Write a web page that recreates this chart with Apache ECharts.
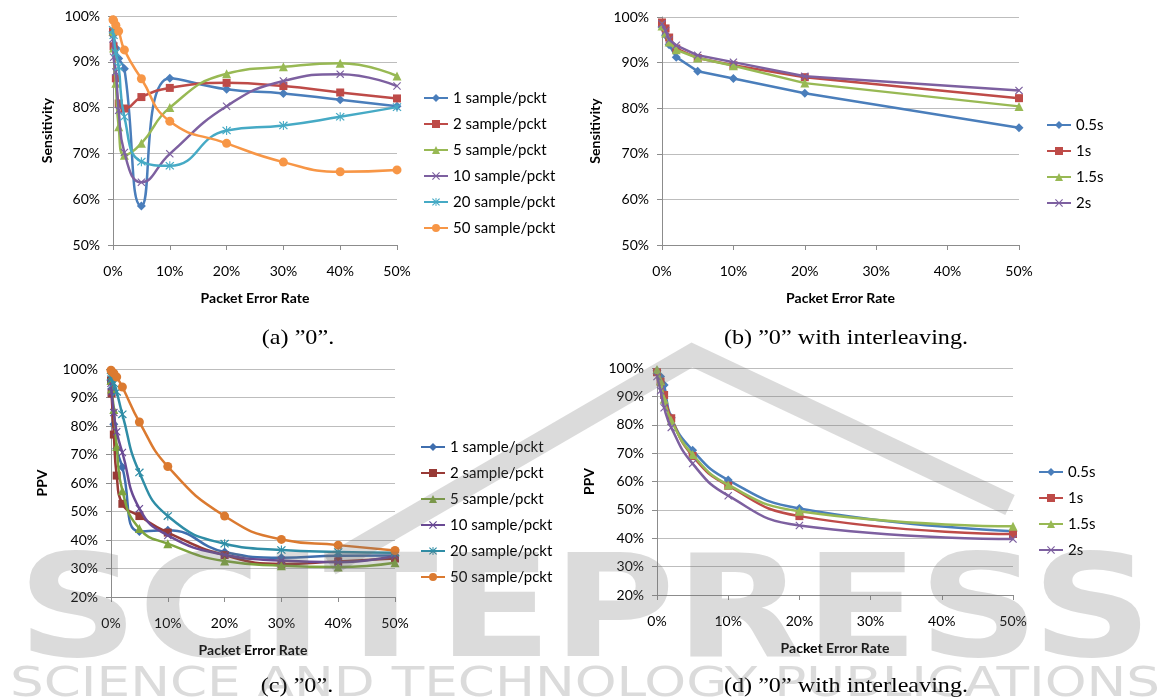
<!DOCTYPE html>
<html>
<head>
<meta charset="utf-8">
<script src="https://cdn.jsdelivr.net/npm/echarts@6/dist/echarts.min.js"></script>
<style>
  html, body { margin: 0; padding: 0; background: #fff; }
  #chart { width: 1170px; height: 700px; }
</style>
</head>
<body>
<div id="chart"></div>
<script>
// x positions (packet error rate, %)
const perFine = [0, 0.1, 0.5, 1, 2, 5, 10, 20, 30, 40, 50];
const perInter = [0, 0.5, 1, 2, 5, 10, 20, 50];

const sampleNames = ['1 sample/pckt', '2 sample/pckt', '5 sample/pckt', '10 sample/pckt', '20 sample/pckt', '50 sample/pckt'];
const windowNames = ['0.5s', '1s', '1.5s', '2s'];

// (a) sensitivity, "0"
const sensA = [
  [96.6, 96.0, 93.0, 90.7, 88.5, 58.5, 86.4, 84.0, 83.1, 81.7, 80.3],
  [96.6, 93.4, 86.4, 80.9, 79.8, 82.3, 84.3, 85.4, 84.7, 83.3, 82.0],
  [96.6, 93.0, 85.3, 75.8, 69.6, 72.2, 80.0, 87.4, 88.9, 89.7, 86.9],
  [95.0, 91.0, 87.8, 79.4, 70.2, 63.7, 69.9, 80.3, 85.8, 87.3, 84.7],
  [97.0, 95.8, 92.0, 88.9, 78.0, 68.2, 67.3, 75.0, 76.1, 78.0, 80.1],
  [99.2, 99.0, 98.0, 96.7, 92.6, 86.3, 77.0, 72.2, 68.1, 66.0, 66.4]
];
// (b) sensitivity, "0" with interleaving
const sensB = [
  [97.8, 96.0, 93.9, 91.2, 88.1, 86.5, 83.3, 75.7],
  [98.8, 97.5, 95.5, 93.1, 91.0, 89.4, 86.8, 82.2],
  [98.0, 96.5, 94.5, 92.8, 91.0, 89.3, 85.5, 80.4],
  [98.5, 97.0, 95.0, 93.8, 91.6, 90.1, 87.0, 83.9]
];
// (c) PPV, "0"
const ppvC = [
  [96.0, 93.0, 80.6, 72.0, 65.5, 43.0, 43.4, 35.8, 33.8, 34.5, 34.6],
  [96.0, 91.4, 77.0, 62.6, 52.7, 48.4, 42.6, 34.7, 31.6, 32.5, 33.5],
  [96.0, 93.0, 85.8, 72.8, 57.3, 44.0, 38.7, 32.6, 31.0, 30.5, 32.0],
  [95.0, 92.0, 84.7, 78.0, 70.7, 51.0, 41.6, 34.8, 32.8, 32.2, 34.5],
  [97.4, 96.5, 95.0, 92.0, 84.1, 63.7, 48.4, 38.7, 36.5, 35.8, 35.5],
  [99.6, 99.2, 98.5, 97.2, 93.7, 81.4, 65.8, 48.4, 40.2, 38.2, 36.3]
];
// (d) PPV, "0" with interleaving
const ppvD = [
  [99.0, 97.0, 94.0, 82.5, 71.0, 60.5, 50.5, 42.5],
  [98.5, 95.2, 90.5, 82.3, 69.0, 58.5, 47.8, 41.5],
  [99.5, 95.5, 89.0, 81.5, 69.5, 58.8, 49.5, 44.2],
  [97.0, 92.0, 86.0, 79.0, 66.3, 55.0, 44.5, 39.7]
];

const captions = ['(a) ”0”.', '(b) ”0” with interleaving.', '(c) ”0”.', '(d) ”0” with interleaving.'];

const X_MARK = 'path://M0,1L1,0L5,4L9,0L10,1L6,5L10,9L9,10L5,6L1,10L0,9L4,5Z';
const STAR_MARK = 'path://M0,1L1,0L5,4L9,0L10,1L6,5L10,9L9,10L5,6L1,10L0,9L4,5Z M4.4,-0.5L5.6,-0.5L5.6,10.5L4.4,10.5Z';
const marks = ['diamond', 'rect', 'triangle', X_MARK, STAR_MARK, 'circle'];
const markSize = [9, 8, 9, 8, 9, 9];

const light = ['#4A7EBB', '#BE4B48', '#98B954', '#7D60A0', '#46AAC5', '#F79646'];
const dark = ['#3F6EAE', '#983A36', '#7EA43E', '#6A4A94', '#2F8DA6', '#DB7A30'];

const FONT = 'Lato';

const grids = [
  { left: 113, top: 16, width: 284, height: 229 },
  { left: 662, top: 17, width: 357, height: 228 },
  { left: 111, top: 369, width: 284, height: 228 },
  { left: 657, top: 368, width: 356, height: 227 }
];
const yRange = [[50, 100], [50, 100], [20, 100], [20, 100]];
const yNames = ['Sensitivity', 'Sensitivity', 'PPV', 'PPV'];
const yNameGap = [59, 60, 62, 61];

const xAxes = grids.map((g, i) => ({
  type: 'value', gridIndex: i, min: 0, max: 50, interval: 10,
  name: 'Packet Error Rate', nameLocation: 'middle', nameGap: 46,
  nameTextStyle: { fontFamily: FONT, fontWeight: 'bold', fontSize: 14, color: '#000' },
  axisLine: { show: true, lineStyle: { color: '#8c8c8c', width: 1 } },
  axisTick: { show: true, length: 5, lineStyle: { color: '#8c8c8c' } },
  axisLabel: { formatter: '{value}%', margin: 19, fontFamily: FONT, fontSize: 14, color: '#000' },
  splitLine: { show: false }
}));

const yAxes = grids.map((g, i) => ({
  type: 'value', gridIndex: i, min: yRange[i][0], max: yRange[i][1], interval: 10,
  name: yNames[i], nameLocation: 'middle', nameGap: yNameGap[i], nameRotate: 90,
  nameTextStyle: { fontFamily: FONT, fontWeight: 'bold', fontSize: 14, color: '#000' },
  axisLine: { show: true, lineStyle: { color: '#8c8c8c', width: 1 } },
  axisTick: { show: true, length: 5, lineStyle: { color: '#8c8c8c' } },
  axisLabel: { formatter: '{value}%', margin: 13, fontFamily: FONT, fontSize: 14, color: '#000' },
  splitLine: { show: true, lineStyle: { color: '#bdbdbd', width: 1 } }
}));

function makeSeries(panel, names, xs, rows, colors, smooth, tag) {
  return rows.map((row, k) => ({
    name: tag + '|' + names[k],
    type: 'line', xAxisIndex: panel, yAxisIndex: panel,
    data: row.map((v, j) => [xs[j], v]),
    smooth: smooth ? 0.5 : false,
    symbol: marks[k], symbolSize: markSize[k],
    lineStyle: { color: colors[k], width: 2.5 },
    itemStyle: { color: colors[k] },
    z: 3 + k
  }));
}

const series = [].concat(
  makeSeries(0, sampleNames, perFine, sensA, light, true, 'a'),
  makeSeries(1, windowNames, perInter, sensB, light, false, 'b'),
  makeSeries(2, sampleNames, perFine, ppvC, dark, true, 'c'),
  makeSeries(3, windowNames, perInter, ppvD, light, true, 'd')
);

function legend(tag, names, left, top) {
  return {
    data: names.map(n => tag + '|' + n), orient: 'vertical', left: left, top: top,
    itemWidth: 24, itemHeight: 10, itemGap: 10, selectedMode: false,
    formatter: n => n.split('|')[1],
    textStyle: { fontFamily: FONT, fontSize: 15, lineHeight: 16, color: '#000' }
  };
}

const gray = 'rgba(110,110,110,0.25)';
const captionStyle = { fontFamily: 'Liberation Serif', fontSize: 21, fill: '#000', align: 'center', verticalAlign: 'middle' };
function caption(text, cx, cy) {
  return { type: 'text', x: cx, y: cy, scaleX: 1.15, style: Object.assign({ text: text }, captionStyle) };
}

const chart = echarts.init(document.getElementById('chart'));
chart.setOption({
  animation: false,
  backgroundColor: '#fff',
  grid: grids,
  xAxis: xAxes,
  yAxis: yAxes,
  legend: [
    legend('a', sampleNames, 418, 85),
    legend('b', windowNames, 1041, 112),
    legend('c', sampleNames, 415, 434),
    legend('d', windowNames, 1033, 459)
  ],
  series: series,
  graphic: [
    { type: 'polyline', silent: true, z: 100,
      shape: { points: [[330, 565], [692, 355], [1010, 505]] },
      style: { stroke: gray, lineWidth: 22, fill: null } },
    { type: 'text', silent: true, z: 100, x: 585, y: 548, scaleX: 1.18,
      style: { text: 'SCITEPRESS', align: 'center', fontFamily: 'DejaVu Sans', fontWeight: 'bold', fontSize: 142, fill: gray } },
    { type: 'text', silent: true, z: 100, x: 585, y: 666, scaleX: 1.33,
      style: { text: 'SCIENCE AND TECHNOLOGY PUBLICATIONS', align: 'center', fontFamily: 'DejaVu Sans', fontSize: 40, fill: gray } },
    caption(captions[0], 298, 338),
    caption(captions[1], 846, 338),
    caption(captions[2], 297, 686),
    caption(captions[3], 846, 686)
  ]
});
</script>
</body>
</html>
